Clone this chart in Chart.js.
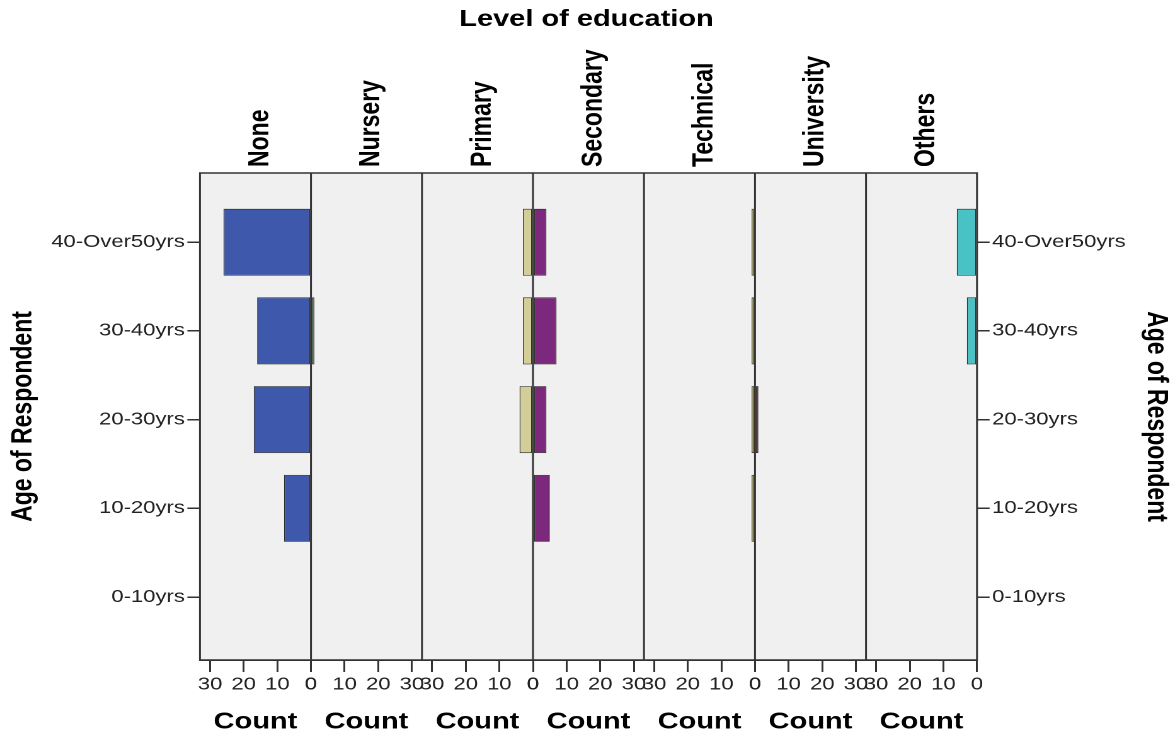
<!DOCTYPE html>
<html>
<head>
<meta charset="utf-8">
<script src="https://cdn.jsdelivr.net/npm/chart.js@4.4.0/dist/chart.umd.min.js"></script>
<style>
html,body{margin:0;padding:0;background:#fff;overflow:hidden;width:1173px;height:736px;}
#wrap{position:absolute;left:0;top:0;width:931px;height:736px;transform:scaleX(1.26);transform-origin:0 0;}
</style>
</head>
<body>
<div id="wrap"><canvas id="c" width="931" height="736"></canvas></div>
<script>
// ---- data ----
const ageGroups = ['0-10yrs', '10-20yrs', '20-30yrs', '30-40yrs', '40-Over50yrs'];
const educationLevels = ['None', 'Nursery', 'Primary', 'Secondary', 'Technical', 'University', 'Others'];
const countTicks = [0, 10, 20, 30];
const noneCounts       = [0, 8, 17, 16, 26];
const nurseryCounts    = [0, 0, 0, 1, 0];
const primaryCounts    = [0, 0, 4, 3, 3];
const secondaryCounts  = [0, 5, 4, 7, 4];
const technicalCounts  = [0, 1, 1, 1, 1];
const universityCounts = [0, 0, 1, 0, 0];
const othersCounts     = [0, 0, 0, 3, 6];
const seriesValues = [noneCounts, nurseryCounts, primaryCounts, secondaryCounts, technicalCounts, universityCounts, othersCounts];
const seriesColors = ['#3E58AC', '#2EB848', '#D3CE97', '#7C287D', '#FBF873', '#EF3338', '#48C2C5'];

const FAMILY = "'Liberation Sans', Arial, sans-serif";
const titleFont = {family: FAMILY, size: 23, weight: 'bold'};
const tickFont = {family: FAMILY, size: 17.5};

const framePlugin = {
  id: 'frame',
  beforeDatasetsDraw(chart) {
    const {ctx, chartArea: a} = chart;
    ctx.save();
    ctx.fillStyle = '#f0f0f0';
    ctx.fillRect(a.left, a.top, a.right - a.left, a.bottom - a.top);
    ctx.restore();
  },
  afterDatasetsDraw(chart) {
    const {ctx, chartArea: a} = chart;
    ctx.save();
    ctx.strokeStyle = '#333';
    ctx.lineWidth = 1.5;
    ctx.strokeRect(a.left, a.top, a.right - a.left, a.bottom - a.top);
    educationLevels.forEach((_, i) => {
      if (i === 0) return;
      const s = chart.scales['x' + i];
      ctx.beginPath();
      ctx.moveTo(s.left, a.top);
      ctx.lineTo(s.left, a.bottom);
      ctx.stroke();
    });
    ctx.fillStyle = '#000';
    ctx.font = 'bold 23px ' + FAMILY;
    ctx.textAlign = 'left';
    ctx.textBaseline = 'middle';
    educationLevels.forEach((name, i) => {
      const s = chart.scales['x' + i];
      const cx = (s.left + s.right) / 2 + 4;
      ctx.save();
      ctx.translate(cx, a.top - 6);
      ctx.rotate(-Math.PI / 2);
      ctx.fillText(name, 0, 0);
      ctx.restore();
    });
    ctx.restore();
  }
};

function yAxis(position, width, pad) {
  return {
    type: 'linear', position: position, min: -0.71, max: 4.78, offset: false,
    afterBuildTicks: s => { s.ticks = ageGroups.map((_, i) => ({value: i})); },
    afterFit: s => { s.width = width; },
    ticks: {callback: v => ageGroups[v], font: tickFont, color: '#222', padding: 2, autoSkip: false},
    grid: {drawOnChartArea: false, offset: false, tickLength: 10, color: '#333', lineWidth: 1.5},
    border: {display: true, color: '#333', width: 1.5},
    title: {display: true, text: 'Age of Respondent', font: titleFont, color: '#000', padding: {top: pad, bottom: 0}}
  };
}

const scales = {
  y: yAxis('left', 158.7, 5),
  y2: yAxis('right', 155.6, 0)
};
educationLevels.forEach((name, i) => {
  scales['x' + i] = {
    type: 'linear', position: 'bottom', stack: 'edu', stackWeight: 1,
    min: 0, max: 33, reverse: i % 2 === 0, offset: false,
    afterBuildTicks: s => { s.ticks = countTicks.map(v => ({value: v})); },
    afterFit: s => { s.height = 76; },
    ticks: {font: tickFont, color: '#222', padding: 2, autoSkip: false, maxRotation: 0},
    grid: {drawOnChartArea: false, tickLength: 12, color: '#333', lineWidth: 1.5},
    border: {display: true, color: '#333', width: 1.5},
    title: {display: true, text: 'Count', font: titleFont, color: '#000', padding: {top: 0, bottom: 0}}
  };
});

const datasets = educationLevels.map((name, i) => ({
  label: name,
  xAxisID: 'x' + i,
  yAxisID: 'y',
  data: seriesValues[i].map((v, j) => ({x: v || null, y: j})),
  backgroundColor: seriesColors[i],
  borderColor: '#2a2a2a',
  borderWidth: 0.8,
  borderSkipped: false,
  grouped: false,
  categoryPercentage: 1,
  barPercentage: 0.755
}));

new Chart(document.getElementById('c'), {
  type: 'bar',
  data: {datasets: datasets},
  options: {
    indexAxis: 'y',
    responsive: false,
    devicePixelRatio: 2,
    animation: false,
    layout: {padding: 0},
    scales: scales,
    plugins: {
      legend: {display: false},
      tooltip: {enabled: false},
      title: {display: true, text: 'Level of education', font: titleFont, color: '#000', padding: {top: 6, bottom: 139.4}}
    }
  },
  plugins: [framePlugin]
});
</script>
</body>
</html>
